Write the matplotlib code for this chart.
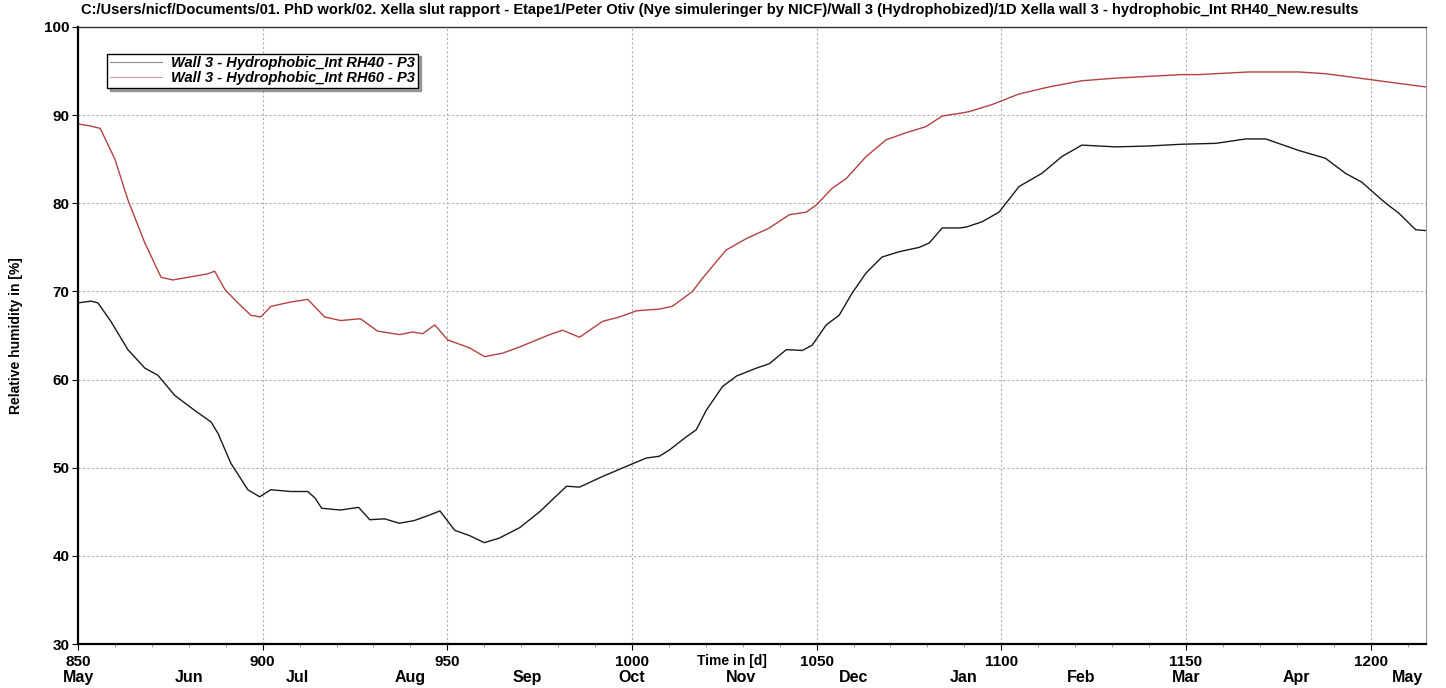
import matplotlib
matplotlib.use("Agg")
from matplotlib import pyplot as plt
from matplotlib.lines import Line2D

plt.rcParams['font.family'] = ['Liberation Sans', 'DejaVu Sans']

# time [d] and relative humidity [%] at point P3, interior RH40
days_rh40 = [850, 853.5, 855.4, 858.9, 863.5, 868.1, 871.6, 876.2, 881.6, 886, 887.9,
             891.4, 896, 899.2, 902.2, 907.6, 912.2, 914.1, 916, 921, 926, 929, 933,
             937, 941, 945, 948, 952, 956, 960, 964, 969.6, 975, 979, 982.3, 985.8,
             992, 999.3, 1003.9, 1007.4, 1010.1, 1014.7, 1017.4, 1020.1, 1024.5,
             1028.3, 1033.7, 1037.2, 1041.8, 1046.1, 1048.8, 1052.6, 1056.1, 1059.6,
             1063.4, 1067.7, 1072.3, 1077.8, 1080.5, 1084, 1088.6, 1090.5, 1094.8,
             1099.4, 1104.8, 1111, 1116.4, 1121.8, 1131, 1140, 1148.9, 1158.1,
             1166.2, 1171.6, 1180.5, 1187.8, 1193.2, 1197.6, 1204.1, 1207.6,
             1212.2, 1215]
rh40 = [68.7, 68.9, 68.7, 66.6, 63.4, 61.3, 60.5, 58.2, 56.5, 55.2, 53.9,
        50.5, 47.5, 46.7, 47.5, 47.3, 47.3, 46.6, 45.4, 45.2, 45.5, 44.1, 44.2,
        43.7, 44.0, 44.6, 45.1, 42.9, 42.3, 41.5, 42.0, 43.2, 45.0, 46.6, 47.9, 47.8,
        49.0, 50.3, 51.1, 51.3, 52.0, 53.5, 54.3, 56.5, 59.2,
        60.4, 61.3, 61.8, 63.4, 63.3, 63.9, 66.2, 67.3, 69.8,
        72.1, 73.9, 74.5, 75.0, 75.5, 77.2, 77.2, 77.3, 77.9,
        79.0, 81.9, 83.4, 85.3, 86.6, 86.4, 86.5, 86.7, 86.8,
        87.3, 87.3, 86.0, 85.1, 83.4, 82.4, 80.0, 78.9,
        77.0, 76.9]

# time [d] and relative humidity [%] at point P3, interior RH60
days_rh60 = [850, 853, 856, 860, 863.5, 868.1, 872.5, 875.7, 885.2, 887, 889.8,
             893.3, 896.8, 899.5, 902.2, 907.6, 912.2, 916.8, 921.1, 926.5, 931.1,
             937.1, 940.6, 943.3, 946.6, 950.1, 956, 960.1, 965, 969.6, 974.2,
             977.7, 981.2, 985.8, 992, 996.6, 1001.2, 1007.4, 1010.9, 1016.4,
             1019.1, 1025.5, 1031, 1037.2, 1042.6, 1047.2, 1049.9, 1054.2, 1058,
             1063.4, 1068.8, 1074.2, 1079.6, 1084, 1088.6, 1091.3, 1097.5, 1104.8,
             1112.9, 1121.8, 1131, 1148.9, 1153.5, 1167, 1180.5, 1187.8, 1198.7,
             1207.6, 1215]
rh60 = [89.0, 88.8, 88.5, 85.0, 80.4, 75.5, 71.6, 71.3, 72.0, 72.3, 70.2,
        68.7, 67.3, 67.1, 68.3, 68.8, 69.1, 67.1, 66.7, 66.9, 65.5,
        65.1, 65.4, 65.2, 66.2, 64.5, 63.6, 62.6, 63.0, 63.7, 64.5,
        65.1, 65.6, 64.8, 66.6, 67.1, 67.8, 68.0, 68.3, 70.0,
        71.5, 74.7, 76.0, 77.2, 78.7, 79.0, 79.8, 81.7, 82.8,
        85.3, 87.2, 88.0, 88.7, 89.9, 90.2, 90.4, 91.2, 92.4,
        93.2, 93.9, 94.2, 94.6, 94.6, 94.9, 94.9, 94.7, 94.1,
        93.6, 93.2]

# month names under the day axis
month_days = [850, 880, 909.5, 940, 971.7, 1000, 1029.6, 1060, 1089.7, 1121.6, 1150, 1180, 1210]
month_names = ['May', 'Jun', 'Jul', 'Aug', 'Sep', 'Oct', 'Nov', 'Dec', 'Jan', 'Feb', 'Mar', 'Apr', 'May']

label_rh40 = 'Wall 3 - Hydrophobic_Int RH40 - P3'
label_rh60 = 'Wall 3 - Hydrophobic_Int RH60 - P3'
title = ('C:/Users/nicf/Documents/01. PhD work/02. Xella slut rapport - Etape1/Peter Otiv '
         '(Nye simuleringer by NICF)/Wall 3 (Hydrophobized)/1D Xella wall 3 - '
         'hydrophobic_Int RH40_New.results')

fig = plt.figure(figsize=(14.46, 6.88), dpi=100)
ax = fig.add_axes([78/1446, 44/688, 1348/1446, 617/688])

ax.plot(days_rh40, rh40, color='#1a1a1a', lw=1.0)
ax.plot(days_rh60, rh60, color='#b84040', lw=1.0)

ax.set_xlim(850, 1215)
ax.set_ylim(30, 100)
ax.set_xticks(range(850, 1201, 50))
ax.set_xticks(range(850, 1215, 10), minor=True)
ax.set_yticks(range(30, 101, 10))
ax.grid(True, which='major', color='#b0b0b0', linestyle=(0, (2, 2)), lw=0.8)

for lbl in ax.get_xticklabels() + ax.get_yticklabels():
    lbl.set_fontweight('bold')
ax.tick_params(axis='both', which='major', labelsize=11, length=4, width=0.8)
ax.tick_params(axis='x', which='major', pad=4)
ax.tick_params(axis='x', which='minor', length=2, width=0.6, color='#888888')
ax.tick_params(axis='y', pad=2)

for s in ['left', 'bottom']:
    ax.spines[s].set_linewidth(1.6)
    ax.spines[s].set_color('black')
ax.spines['top'].set_color('#333333')
ax.spines['top'].set_linewidth(1.0)
ax.spines['right'].set_color('#999999')
ax.spines['right'].set_linewidth(0.8)

# month row and axis caption below the day numbers
xt = ax.get_xaxis_transform()
for d, m in zip(month_days, month_names):
    ax.text(d, -0.0535, m, transform=xt, ha='center', va='center',
            fontsize=11.5, fontweight='bold')
ax.text(1027, -0.0276, 'Time in [d]', transform=xt, ha='center', va='center',
        fontsize=10, fontweight='bold')

ax.set_ylabel('Relative humidity in [%]', fontsize=10, fontweight='bold')
ax.yaxis.set_label_coords(-0.0408, 0.5)

fig.text(720/1446, 1 - 10/688, title, ha='center', va='center',
         fontsize=10.5, fontweight='bold')

handles = [Line2D([], [], color='#8c8c8c', lw=0.8),
           Line2D([], [], color='#d49a9a', lw=0.8)]
leg = ax.legend(handles, [label_rh40, label_rh60], loc='upper left',
                bbox_to_anchor=(0.0215, 0.957), borderaxespad=0,
                fancybox=False, shadow=True, framealpha=1,
                prop={'weight': 'bold', 'style': 'italic', 'size': 10.5},
                handlelength=3.6, handletextpad=0.6, borderpad=0.2,
                labelspacing=0.05)
leg.get_frame().set_edgecolor('black')
leg.get_frame().set_linewidth(1.0)

fig.savefig('out.png', dpi=100)
